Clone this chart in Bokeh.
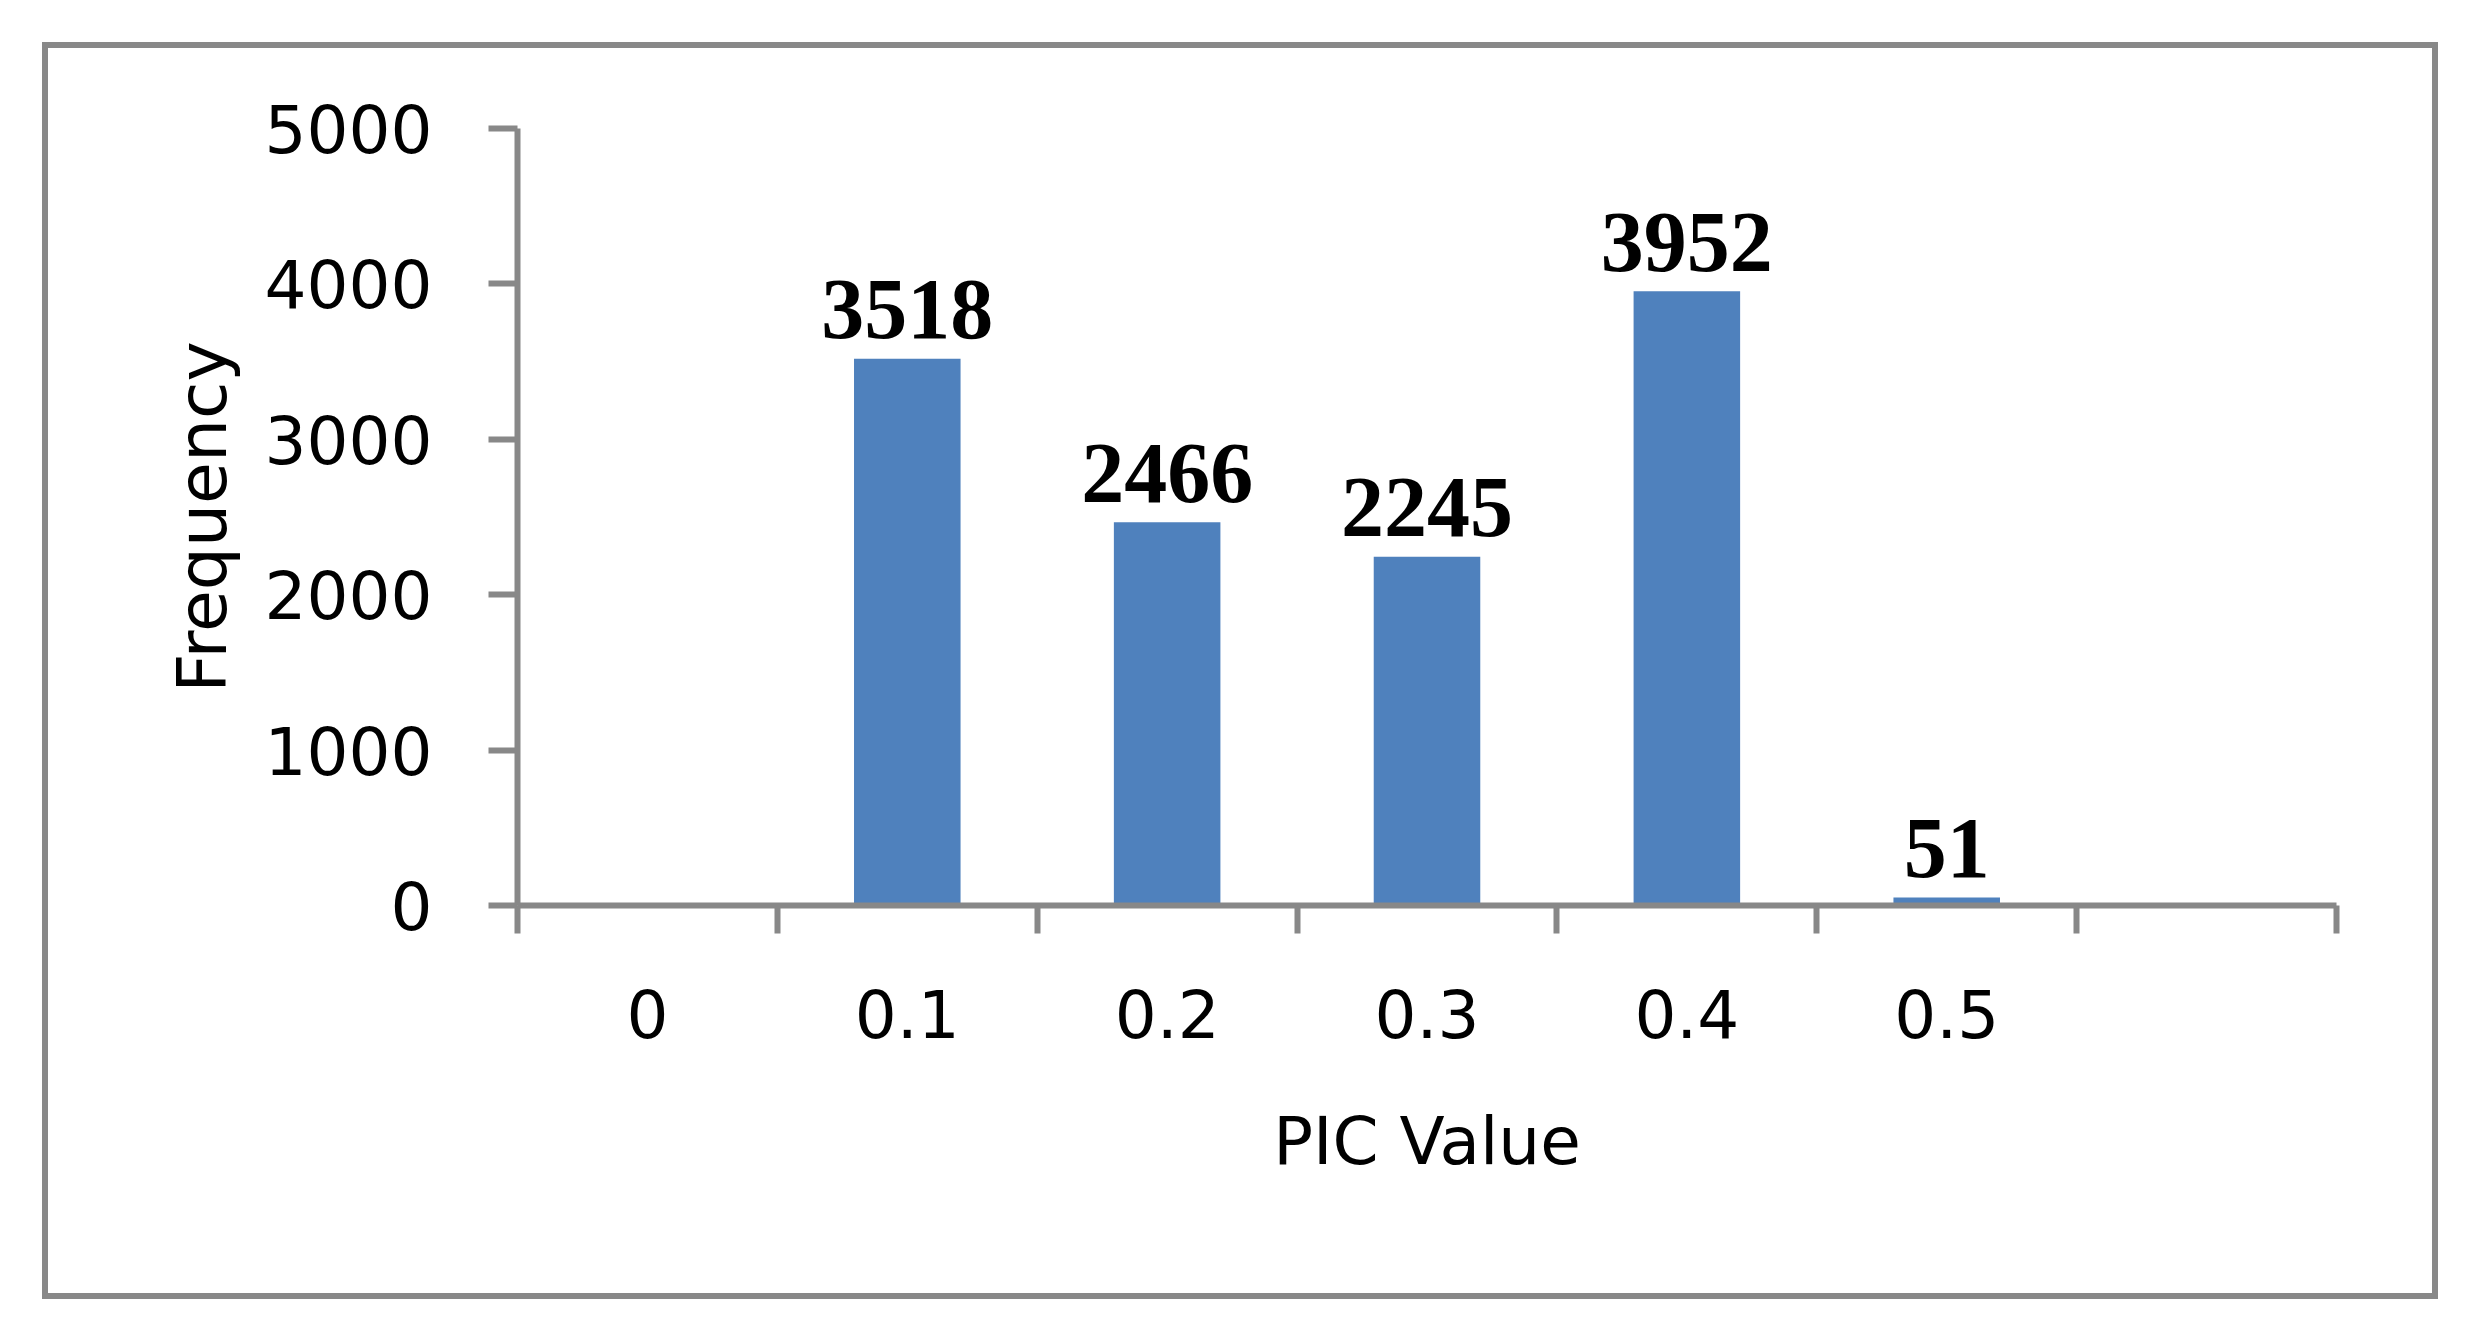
from bokeh.plotting import figure
from bokeh.models import ColumnDataSource, FixedTicker, Range1d
from bokeh.embed import file_html
from bokeh.resources import INLINE
from bokeh.core.properties import value

# ---- data ----
categories = ["0", "0.1", "0.2", "0.3", "0.4", "0.5", ""]
frequencies = [0, 3518, 2466, 2245, 3952, 51, 0]
y_ticks = [0, 1000, 2000, 3000, 4000, 5000]

n = len(categories)
centers = [i + 0.5 for i in range(n)]
bounds = list(range(n + 1))

src = ColumnDataSource(dict(x=centers, top=frequencies, cat=categories))
shown = [(c, f) for c, f in zip(centers, frequencies) if f > 0]
lab = ColumnDataSource(dict(x=[c for c, _ in shown],
                            y=[f for _, f in shown],
                            text=[str(f) for _, f in shown]))

AX = "#888888"
FONT = "DejaVu Sans"

p = figure(width=2396, height=1257,
           x_range=Range1d(0, n), y_range=Range1d(0, 5000),
           output_backend="svg", toolbar_location=None,
           min_border_left=469, min_border_right=108,
           min_border_top=80, min_border_bottom=400)
p.margin = (42, 0, 0, 42)
p.styles = {"border": "6px solid #888888"}
p.outline_line_color = None
p.xgrid.grid_line_color = None
p.ygrid.grid_line_color = None
p.background_fill_color = "white"
p.border_fill_color = "white"

p.vbar(x="x", top="top", width=0.41, source=src,
       fill_color="#4F81BD", line_color=None)

p.text(x="x", y="y", text="text", source=lab,
       text_font=value("Liberation Serif"), text_font_style="bold",
       text_font_size="86px", text_align="center",
       text_baseline="alphabetic", text_color="black", y_offset=-49)

# y axis
ya = p.yaxis[0]
ya.ticker = FixedTicker(ticks=y_ticks)
ya.axis_label = "Frequency"
ya.axis_line_color = AX
ya.axis_line_width = 6
ya.major_tick_line_color = AX
ya.major_tick_line_width = 6
ya.major_tick_out = 29
ya.major_tick_in = 0
ya.minor_tick_line_color = None
ya.major_label_standoff = 56
ya.major_label_text_font = FONT
ya.major_label_text_font_size = "66px"
ya.major_label_text_color = "black"
ya.axis_label_text_font = FONT
ya.axis_label_text_font_size = "68px"
ya.axis_label_text_font_style = "normal"
ya.axis_label_text_color = "black"
ya.axis_label_standoff = 20

# x axis
xa = p.xaxis[0]
xa.ticker = FixedTicker(ticks=centers, minor_ticks=bounds)
xa.major_label_overrides = {c: (l if l else " ") for c, l in zip(centers, categories)}
xa.axis_label = "PIC Value"
xa.axis_line_color = AX
xa.axis_line_width = 6
xa.major_tick_line_color = None
xa.major_tick_out = 0
xa.major_tick_in = 0
xa.minor_tick_line_color = AX
xa.minor_tick_line_width = 6
xa.minor_tick_out = 28
xa.minor_tick_in = 0
xa.major_label_standoff = 43
xa.major_label_text_font = FONT
xa.major_label_text_font_size = "66px"
xa.major_label_text_color = "black"
xa.axis_label_text_font = FONT
xa.axis_label_text_font_size = "66px"
xa.axis_label_text_font_style = "normal"
xa.axis_label_text_color = "black"
xa.axis_label_standoff = 46

open("out.html", "w").write(file_html(p, INLINE))
